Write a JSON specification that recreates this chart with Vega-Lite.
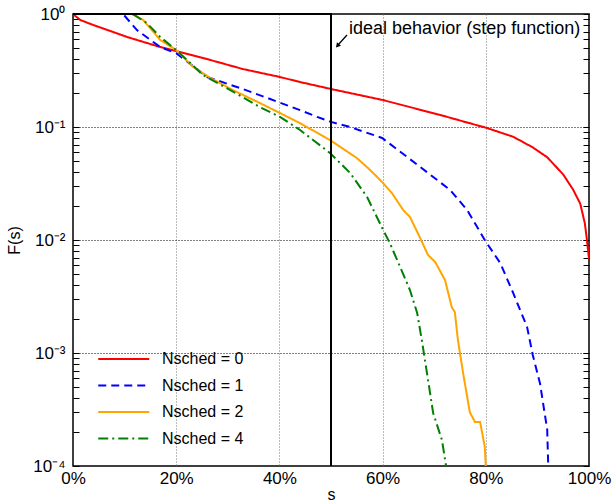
{
  "$schema": "https://vega.github.io/schema/vega-lite/v6.json",
  "width": 516,
  "height": 452,
  "autosize": {"type": "none"},
  "padding": {"left": 73, "top": 14, "right": 26, "bottom": 37},
  "config": {
    "font": "Liberation Sans",
    "view": {"stroke": "black", "strokeWidth": 1.5},
    "axis": {"domain": false, "labelColor": "black", "titleColor": "black", "labelFont": "Liberation Sans", "titleFont": "Liberation Sans", "titleFontWeight": "normal"},
    "legend": {"labelFont": "Liberation Sans"}
  },
  "datasets": {
    "curves": [
      {"series": "0", "s": 0, "F": 1.0},
      {"series": "0", "s": 1.4, "F": 0.885},
      {"series": "0", "s": 3.9, "F": 0.8},
      {"series": "0", "s": 10.5, "F": 0.626},
      {"series": "0", "s": 16.9, "F": 0.51},
      {"series": "0", "s": 20, "F": 0.47},
      {"series": "0", "s": 26.6, "F": 0.392},
      {"series": "0", "s": 32.9, "F": 0.326},
      {"series": "0", "s": 40.1, "F": 0.277},
      {"series": "0", "s": 44, "F": 0.25},
      {"series": "0", "s": 50, "F": 0.217},
      {"series": "0", "s": 60.1, "F": 0.173},
      {"series": "0", "s": 71.1, "F": 0.128},
      {"series": "0", "s": 80.2, "F": 0.098},
      {"series": "0", "s": 85.3, "F": 0.082},
      {"series": "0", "s": 89.1, "F": 0.066},
      {"series": "0", "s": 91.9, "F": 0.054},
      {"series": "0", "s": 95, "F": 0.038},
      {"series": "0", "s": 96.9, "F": 0.028},
      {"series": "0", "s": 98.3, "F": 0.021},
      {"series": "0", "s": 99.2, "F": 0.014},
      {"series": "0", "s": 99.6, "F": 0.01},
      {"series": "0", "s": 100, "F": 0.0068},
      {"series": "1", "s": 0, "F": 1.0},
      {"series": "1", "s": 9.7, "F": 1.0},
      {"series": "1", "s": 12.4, "F": 0.72},
      {"series": "1", "s": 16.9, "F": 0.51},
      {"series": "1", "s": 20, "F": 0.45},
      {"series": "1", "s": 26, "F": 0.277},
      {"series": "1", "s": 32.4, "F": 0.221},
      {"series": "1", "s": 38.2, "F": 0.177},
      {"series": "1", "s": 44, "F": 0.141},
      {"series": "1", "s": 47.3, "F": 0.123},
      {"series": "1", "s": 50, "F": 0.111},
      {"series": "1", "s": 53.7, "F": 0.1},
      {"series": "1", "s": 59.9, "F": 0.08},
      {"series": "1", "s": 65.3, "F": 0.052},
      {"series": "1", "s": 73.1, "F": 0.0277},
      {"series": "1", "s": 76.4, "F": 0.0184},
      {"series": "1", "s": 79.8, "F": 0.01},
      {"series": "1", "s": 82.8, "F": 0.00625},
      {"series": "1", "s": 85.3, "F": 0.0034},
      {"series": "1", "s": 88, "F": 0.0017},
      {"series": "1", "s": 89.1, "F": 0.00096},
      {"series": "1", "s": 90.5, "F": 0.00054},
      {"series": "1", "s": 91.9, "F": 0.00021},
      {"series": "1", "s": 92.1, "F": 0.0001},
      {"series": "2", "s": 0, "F": 1.0},
      {"series": "2", "s": 11.4, "F": 1.0},
      {"series": "2", "s": 13.6, "F": 0.885},
      {"series": "2", "s": 16.9, "F": 0.589},
      {"series": "2", "s": 20, "F": 0.48},
      {"series": "2", "s": 23.3, "F": 0.34},
      {"series": "2", "s": 26.6, "F": 0.272},
      {"series": "2", "s": 31, "F": 0.212},
      {"series": "2", "s": 36.2, "F": 0.163},
      {"series": "2", "s": 40.1, "F": 0.133},
      {"series": "2", "s": 44, "F": 0.108},
      {"series": "2", "s": 49.8, "F": 0.0767},
      {"series": "2", "s": 55, "F": 0.0532},
      {"series": "2", "s": 57.6, "F": 0.0416},
      {"series": "2", "s": 60.1, "F": 0.0319},
      {"series": "2", "s": 61.8, "F": 0.026},
      {"series": "2", "s": 64, "F": 0.0184},
      {"series": "2", "s": 65.3, "F": 0.016},
      {"series": "2", "s": 67.2, "F": 0.0106},
      {"series": "2", "s": 68.8, "F": 0.00737},
      {"series": "2", "s": 70.2, "F": 0.00638},
      {"series": "2", "s": 72.1, "F": 0.00442},
      {"series": "2", "s": 73.4, "F": 0.00255},
      {"series": "2", "s": 74, "F": 0.0023},
      {"series": "2", "s": 74.6, "F": 0.0013},
      {"series": "2", "s": 75.6, "F": 0.000665},
      {"series": "2", "s": 76.9, "F": 0.0003},
      {"series": "2", "s": 77.9, "F": 0.000245},
      {"series": "2", "s": 78.9, "F": 0.000245},
      {"series": "2", "s": 79.8, "F": 0.000148},
      {"series": "2", "s": 80, "F": 0.0001},
      {"series": "4", "s": 0, "F": 1.0},
      {"series": "4", "s": 11.6, "F": 1.0},
      {"series": "4", "s": 14.3, "F": 0.832},
      {"series": "4", "s": 16.9, "F": 0.626},
      {"series": "4", "s": 20, "F": 0.48},
      {"series": "4", "s": 22.1, "F": 0.392},
      {"series": "4", "s": 25.2, "F": 0.288},
      {"series": "4", "s": 29.8, "F": 0.221},
      {"series": "4", "s": 36.2, "F": 0.15},
      {"series": "4", "s": 40.1, "F": 0.123},
      {"series": "4", "s": 44, "F": 0.094},
      {"series": "4", "s": 49.8, "F": 0.0589},
      {"series": "4", "s": 53.7, "F": 0.0392},
      {"series": "4", "s": 57, "F": 0.024},
      {"series": "4", "s": 60.1, "F": 0.0123},
      {"series": "4", "s": 61.4, "F": 0.0094},
      {"series": "4", "s": 63.4, "F": 0.00577},
      {"series": "4", "s": 65.3, "F": 0.00361},
      {"series": "4", "s": 66.7, "F": 0.00226},
      {"series": "4", "s": 67.6, "F": 0.0013},
      {"series": "4", "s": 68.6, "F": 0.000665},
      {"series": "4", "s": 69.8, "F": 0.000294},
      {"series": "4", "s": 71.5, "F": 0.00017},
      {"series": "4", "s": 72.3, "F": 0.0001}
    ],
    "step": [
      {"i": 0, "s": 0, "F": 1.0},
      {"i": 1, "s": 50, "F": 1.0},
      {"i": 2, "s": 50, "F": 0.0001}
    ],
    "note": [
      {"label": "ideal behavior (step function)"}
    ]
  },
  "resolve": {"axis": {"x": "independent", "y": "independent"}},
  "layer": [
    {
      "data": {"name": "curves"},
      "mark": {"type": "line", "strokeWidth": 2, "clip": true},
      "encoding": {
        "x": {
          "field": "s", "type": "quantitative",
          "scale": {"domain": [0, 100], "nice": false, "zero": false},
          "axis": {
            "values": [0, 20, 40, 60, 80, 100],
            "labelExpr": "datum.value + '%'",
            "labelFontSize": 17,
            "labelFlush": false,
            "labelPadding": 4,
            "ticks": false,
            "grid": true,
            "gridColor": "#777777",
            "gridDash": [1, 2],
            "gridWidth": 1,
            "gridOpacity": {"condition": {"test": "datum.value > 0 && datum.value < 100", "value": 1}, "value": 0},
            "title": "s",
            "titleFontSize": 16,
            "titlePadding": 0
          }
        },
        "y": {
          "field": "F", "type": "quantitative",
          "scale": {"type": "log", "domain": [0.0001, 1], "nice": false},
          "axis": {
            "orient": "left",
            "values": [0.0001, 0.0002, 0.0003, 0.0004, 0.0005, 0.0006, 0.0007, 0.0008, 0.0009, 0.001, 0.002, 0.003, 0.004, 0.005, 0.006, 0.007, 0.008, 0.009, 0.01, 0.02, 0.03, 0.04, 0.05, 0.06, 0.07, 0.08, 0.09, 0.1, 0.2, 0.3, 0.4, 0.5, 0.6, 0.7, 0.8, 0.9, 1],
            "labelExpr": "datum.value == 1 ? '10⁰' : datum.value == 0.1 ? '10⁻¹' : datum.value == 0.01 ? '10⁻²' : datum.value == 0.001 ? '10⁻³' : datum.value == 0.0001 ? '10⁻⁴' : ''",
            "labelOverlap": false,
            "labelFontSize": 17,
            "labelPadding": 14,
            "tickSize": -6,
            "tickColor": "black",
            "tickWidth": 1,
            "grid": true,
            "gridColor": "black",
            "gridDash": [1, 2],
            "gridWidth": 1,
            "gridOpacity": {"condition": {"test": "datum.value == 0.1 || datum.value == 0.01 || datum.value == 0.001", "value": 1}, "value": 0},
            "title": "F(s)",
            "titleFontSize": 16,
            "titlePadding": 10
          }
        },
        "color": {
          "field": "series", "type": "nominal",
          "scale": {"domain": ["0", "1", "2", "4"], "range": ["#ff0000", "#0000ff", "#ffa500", "#008000"]},
          "legend": {
            "orient": "none", "legendX": 24, "legendY": 331,
            "title": null,
            "labelExpr": "'Nsched = ' + datum.label",
            "symbolType": "M-1,0H3", "symbolSize": 650, "symbolStrokeWidth": 2, "symbolFillColor": "transparent",
            "labelFontSize": 16, "labelColor": "black", "labelOffset": 37,
            "rowPadding": 4.5, "padding": 0
          }
        },
        "strokeDash": {
          "field": "series", "type": "nominal",
          "scale": {"domain": ["0", "1", "2", "4"], "range": [[1, 0], [8, 5], [1, 0], [10, 4, 2, 4]]},
          "legend": {
            "orient": "none", "legendX": 24, "legendY": 331,
            "title": null,
            "labelExpr": "'Nsched = ' + datum.label",
            "symbolType": "M-1,0H3", "symbolSize": 650, "symbolStrokeWidth": 2, "symbolFillColor": "transparent",
            "labelFontSize": 16, "labelColor": "black", "labelOffset": 37,
            "rowPadding": 4.5, "padding": 0
          }
        }
      }
    },
    {
      "data": {"name": "step"},
      "mark": {"type": "line", "strokeWidth": 2, "color": "black", "clip": false},
      "encoding": {
        "x": {"field": "s", "type": "quantitative", "axis": null},
        "y": {
          "field": "F", "type": "quantitative",
          "axis": {
            "orient": "right",
            "values": [0.0001, 0.0002, 0.0003, 0.0004, 0.0005, 0.0006, 0.0007, 0.0008, 0.0009, 0.001, 0.002, 0.003, 0.004, 0.005, 0.006, 0.007, 0.008, 0.009, 0.01, 0.02, 0.03, 0.04, 0.05, 0.06, 0.07, 0.08, 0.09, 0.1, 0.2, 0.3, 0.4, 0.5, 0.6, 0.7, 0.8, 0.9, 1],
            "labels": false,
            "tickSize": -6,
            "tickColor": "black",
            "tickWidth": 1,
            "grid": false,
            "title": null
          }
        },
        "order": {"field": "i", "type": "quantitative"}
      }
    },
    {
      "data": {"name": "note"},
      "mark": {"type": "text", "align": "left", "baseline": "middle", "fontSize": 18, "font": "Liberation Sans", "color": "black"},
      "encoding": {
        "x": {"datum": 53.5, "type": "quantitative", "axis": null},
        "y": {"datum": 0.74, "type": "quantitative", "axis": null},
        "text": {"field": "label", "type": "nominal"}
      }
    },
    {
      "data": {"name": "note"},
      "mark": {"type": "rule", "color": "black", "strokeWidth": 1.3},
      "encoding": {
        "x": {"datum": 53.1, "type": "quantitative", "axis": null},
        "y": {"datum": 0.652, "type": "quantitative", "axis": null},
        "x2": {"datum": 51.4},
        "y2": {"datum": 0.535}
      }
    },
    {
      "data": {"name": "note"},
      "mark": {"type": "point", "shape": "triangle", "filled": true, "color": "black", "size": 28, "angle": 220, "opacity": 1},
      "encoding": {
        "x": {"datum": 51.35, "type": "quantitative", "axis": null},
        "y": {"datum": 0.53, "type": "quantitative", "axis": null}
      }
    }
  ]
}
